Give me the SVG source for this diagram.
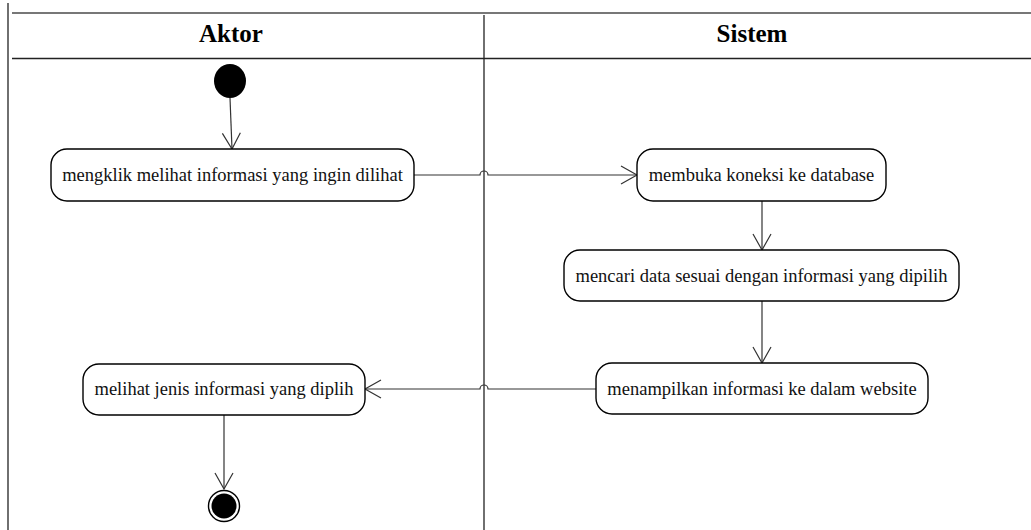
<svg xmlns="http://www.w3.org/2000/svg" width="1031" height="530" viewBox="0 0 1031 530">
  <style>
    .lane { stroke: #222; stroke-width: 1.3; fill: none; }
    .top { stroke: #777; stroke-width: 2; fill: none; }
    .title { font-family: "Liberation Serif", "Times New Roman", serif; font-weight: bold; font-size: 25px; fill: #000; text-anchor: middle; }
    .act rect { fill: #fff; stroke: #000; stroke-width: 1.4; }
    .act text { font-family: "Liberation Serif", "Times New Roman", serif; font-size: 18.5px; fill: #111; text-anchor: middle; }
    .flow { stroke: #333; stroke-width: 1.2; fill: none; }
  </style>
  <defs>
    <marker id="open" viewBox="0 0 20 20" refX="17" refY="10" markerWidth="20" markerHeight="20" markerUnits="userSpaceOnUse" orient="auto">
      <path d="M1,1 L17,10 L1,19" fill="none" stroke="#333" stroke-width="1.2"/>
    </marker>
  </defs>

  <rect width="1031" height="530" fill="#fff"/>

  <!-- swimlanes -->
  <g id="lanes">
    <line class="lane" x1="8" y1="3" x2="8" y2="530"/>
    <line class="top" x1="12" y1="13" x2="1031" y2="13"/>
    <line class="lane" x1="12" y1="58.5" x2="1031" y2="58.5"/>
    <line class="lane" x1="484" y1="15" x2="484" y2="530"/>
    <text class="title" x="231" y="42">Aktor</text>
    <text class="title" x="752" y="42">Sistem</text>
  </g>

  <!-- connectors -->
  <g id="connectors">
    <path class="flow" d="M230,98 L232,149" marker-end="url(#open)"/>
    <path class="flow" d="M414,175 L480,175 A4,4 0 0 1 488,175 L637,175" marker-end="url(#open)"/>
    <path class="flow" d="M762,201 L762,250" marker-end="url(#open)"/>
    <path class="flow" d="M762,301 L762,363" marker-end="url(#open)"/>
    <path class="flow" d="M596,389 L488,389 A4,4 0 0 0 480,389 L365,389" marker-end="url(#open)"/>
    <path class="flow" d="M224,415 L224,489" marker-end="url(#open)"/>
  </g>

  <!-- start node -->
  <g id="start">
    <ellipse cx="230" cy="81" rx="16" ry="17" fill="#000"/>
  </g>

  <g id="act-klik" class="act">
    <rect x="51" y="149" width="363" height="52" rx="16"/>
    <text x="232.5" y="181">mengklik melihat informasi yang ingin dilihat</text>
  </g>

  <g id="act-koneksi" class="act">
    <rect x="637" y="149" width="249" height="52" rx="16"/>
    <text x="761.5" y="181">membuka koneksi ke database</text>
  </g>

  <g id="act-cari" class="act">
    <rect x="564" y="250" width="395" height="51" rx="16"/>
    <text x="761.5" y="281.5">mencari data sesuai dengan informasi yang dipilih</text>
  </g>

  <g id="act-tampil" class="act">
    <rect x="596" y="363" width="332" height="51" rx="16"/>
    <text x="762" y="394.5">menampilkan informasi ke dalam website</text>
  </g>

  <g id="act-lihat" class="act">
    <rect x="83" y="364" width="282" height="51" rx="16"/>
    <text x="224" y="395">melihat jenis informasi yang diplih</text>
  </g>

  <!-- end node -->
  <g id="end">
    <circle cx="224" cy="506" r="15.5" fill="#fff" stroke="#000" stroke-width="1.4"/>
    <circle cx="224" cy="506" r="12.5" fill="#000"/>
  </g>
</svg>
